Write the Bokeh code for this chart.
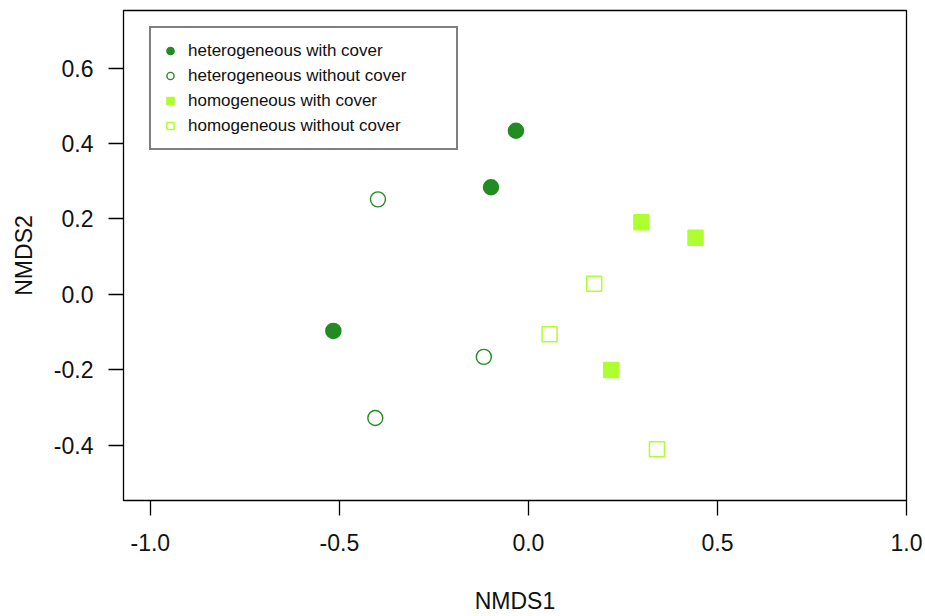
from bokeh.plotting import figure
from bokeh.models import Range1d, Legend, LegendItem, FixedTicker, PrintfTickFormatter
from bokeh.embed import file_html
from bokeh.resources import INLINE

# Data (NMDS scores)
het_cover_x = [-0.033, -0.099, -0.516]
het_cover_y = [0.434, 0.284, -0.097]
het_nocover_x = [-0.398, -0.118, -0.405]
het_nocover_y = [0.252, -0.166, -0.328]
hom_cover_x = [0.299, 0.442, 0.219]
hom_cover_y = [0.191, 0.150, -0.201]
hom_nocover_x = [0.174, 0.056, 0.340]
hom_nocover_y = [0.028, -0.106, -0.411]

labels = ["heterogeneous with cover", "heterogeneous without cover",
          "homogeneous with cover", "homogeneous without cover"]
x_ticks = [-1.0, -0.5, 0.0, 0.5, 1.0]
y_ticks = [-0.4, -0.2, 0.0, 0.2, 0.4, 0.6]

DARK = "#228B22"
LIGHT = "#ADFF2F"
FONT = "Liberation Sans"

p = figure(width=925, height=616, output_backend="svg", toolbar_location=None,
           x_range=Range1d(-1.071, 1.0), y_range=Range1d(-0.547, 0.753),
           min_border_left=123, min_border_right=19, min_border_top=10,
           min_border_bottom=116)
p.background_fill_color = "white"
p.border_fill_color = "white"
p.outline_line_color = "black"
p.outline_line_width = 1.3
p.xgrid.grid_line_color = None
p.ygrid.grid_line_color = None

r1 = p.scatter(het_cover_x, het_cover_y, marker="circle", size=15,
               fill_color=DARK, line_color=DARK, line_width=1.5)
r2 = p.scatter(het_nocover_x, het_nocover_y, marker="circle", size=15,
               fill_color=None, line_color=DARK, line_width=1.4)
r3 = p.scatter(hom_cover_x, hom_cover_y, marker="square", size=15,
               fill_color=LIGHT, line_color=LIGHT, line_width=1.5)
r4 = p.scatter(hom_nocover_x, hom_nocover_y, marker="square", size=15,
               fill_color=None, line_color=LIGHT, line_width=1.5)

for ax in (p.xaxis[0], p.yaxis[0]):
    ax.axis_line_color = None
    ax.major_tick_line_color = "black"
    ax.major_tick_line_width = 1.3
    ax.major_tick_out = 15
    ax.major_tick_in = 0
    ax.minor_tick_line_color = None
    ax.major_label_text_font = FONT
    ax.major_label_text_font_size = "23px"
    ax.major_label_text_color = "#111111"
    ax.major_label_standoff = 15
    ax.axis_label_text_font = FONT
    ax.axis_label_text_font_size = "23px"
    ax.axis_label_text_font_style = "normal"
    ax.axis_label_text_color = "#111111"
    ax.formatter = PrintfTickFormatter(format="%.1f")

p.xaxis[0].ticker = FixedTicker(ticks=x_ticks)
p.yaxis[0].ticker = FixedTicker(ticks=y_ticks)
p.xaxis[0].major_label_standoff = 18
p.xaxis[0].axis_label = "NMDS1"
p.yaxis[0].axis_label = "NMDS2"
p.xaxis[0].axis_label_standoff = 34
p.yaxis[0].axis_label_standoff = 14

legend = Legend(items=[LegendItem(label=labels[0], renderers=[r1]),
                       LegendItem(label=labels[1], renderers=[r2]),
                       LegendItem(label=labels[2], renderers=[r3]),
                       LegendItem(label=labels[3], renderers=[r4])],
                location=(26, 350), orientation="vertical",
                padding=10, margin=0, spacing=0,
                glyph_width=18, glyph_height=25, label_height=25,
                label_width=258, label_standoff=9,
                label_text_font=FONT, label_text_font_size="17px",
                label_text_color="#111111",
                border_line_color="black", border_line_width=2,
                background_fill_color="white", background_fill_alpha=1.0)
p.add_layout(legend, "center")

open("out.html", "w").write(file_html(p, INLINE))
